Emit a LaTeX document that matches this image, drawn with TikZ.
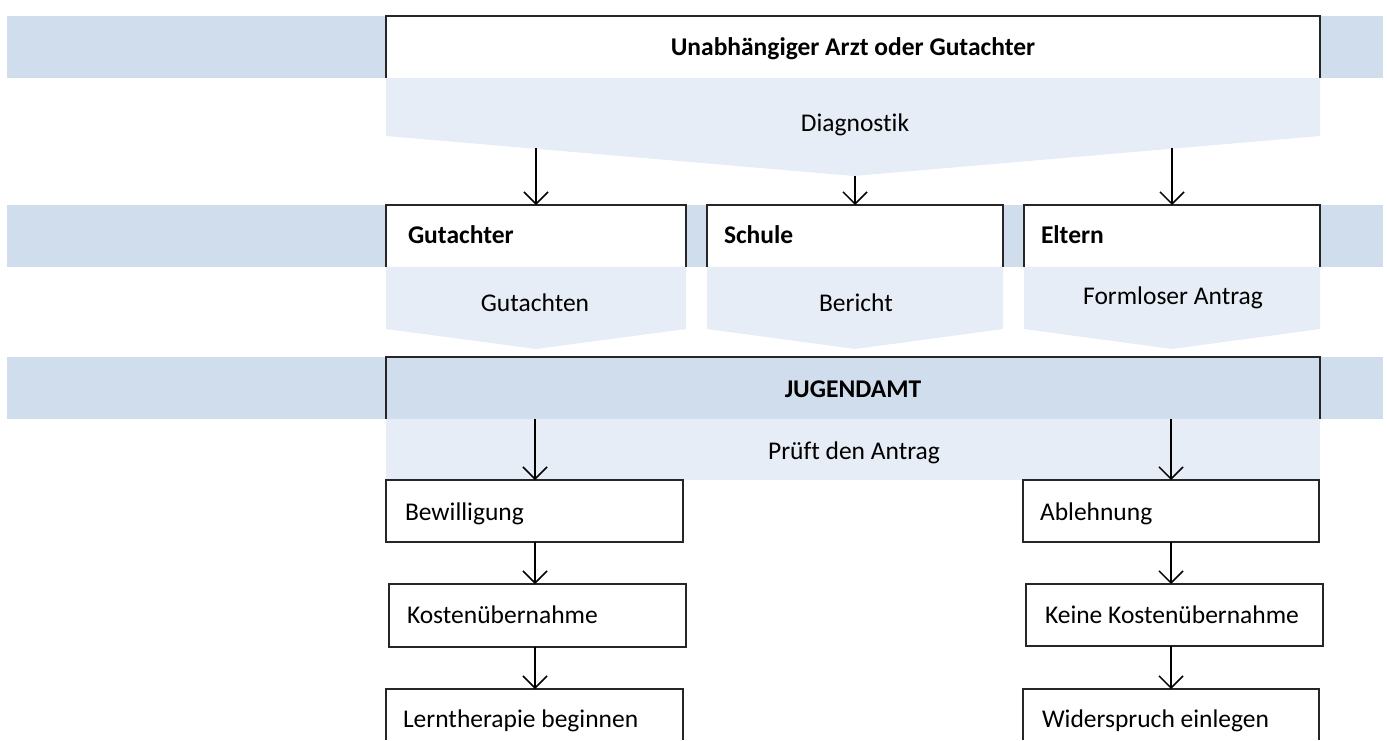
\documentclass[tikz,border=0pt]{standalone}
\usepackage{fontspec}
\setmainfont[Ligatures=NoCommon]{Carlito}
\usetikzlibrary{arrows.meta}
\definecolor{bandc}{RGB}{208,221,236}
\definecolor{chevc}{RGB}{231,237,246}
\begin{document}
\begin{tikzpicture}[x=1pt,y=-1pt,
  every node/.style={font=\fontsize{25.5}{30}\selectfont, inner sep=0pt, outer sep=0pt},
  band/.style={fill=bandc},
  chev/.style={fill=chevc},
  whitebox/.style={fill=white, anchor=north west},
  fullbox/.style={fill=white, draw=black!85, line width=1.6pt, anchor=north west, minimum width=297pt, minimum height=62pt},
  boxline/.style={line width=1.6pt, draw=black!85},
  arr/.style={line width=1.5pt, -{Straight Barb[length=12pt,width=24pt]}},
  lbl/.style={anchor=base west},
  clbl/.style={anchor=base},
  bold/.style={font=\fontsize{25.5}{30}\selectfont\bfseries}
]
\useasboundingbox (0,0) rectangle (1387,740);

% ---------- bands ----------
\fill[band] (7,16) rectangle (1383,78);
\fill[band] (7,205) rectangle (1383,267);
\fill[band] (7,357) rectangle (1383,419);

% ---------- row 1 ----------
\node[whitebox, minimum width=934pt, minimum height=62pt] (arzt) at (386,16) {};
\draw[boxline] (arzt.south west) -- (arzt.north west) -- (arzt.north east) -- (arzt.south east);
\fill[chev] (386,78) -- (1320,78) -- (1320,136) -- (854,176) -- (386,136) -- cycle;
\node[clbl, bold] (tArzt) at (853,55) {Unabhängiger Arzt oder Gutachter};
\node[clbl] (tDiag) at (855,131) {Diagnostik};
\coordinate (d1) at (536,148);
\coordinate (d2) at (855,176);
\coordinate (d3) at (1172,148);

% ---------- row 2 ----------
\node[whitebox, minimum width=300pt, minimum height=62pt] (gut) at (386,205) {};
\node[whitebox, minimum width=296pt, minimum height=62pt] (sch) at (707,205) {};
\node[whitebox, minimum width=296pt, minimum height=62pt] (elt) at (1024,205) {};
\foreach \b in {gut,sch,elt}{
  \draw[boxline] (\b.south west) -- (\b.north west) -- (\b.north east) -- (\b.south east);
}
\fill[chev] (386,267) -- (686,267) -- (686,329) -- (536,349) -- (386,329) -- cycle;
\fill[chev] (707,267) -- (1003,267) -- (1003,329) -- (855,349) -- (707,329) -- cycle;
\fill[chev] (1024,267) -- (1320,267) -- (1320,329) -- (1172,349) -- (1024,329) -- cycle;
\node[lbl, bold] (tGut) at (408,243) {Gutachter};
\node[lbl, bold] (tSch) at (724,243) {Schule};
\node[lbl, bold] (tElt) at (1041,243) {Eltern};
\node[clbl] (tGutn) at (535,311) {Gutachten};
\node[clbl] (tBer) at (856,311) {Bericht};
\node[clbl] (tForm) at (1173,304) {Formloser Antrag};

\draw[arr] (d1) -- (gut.north);
\draw[arr] (d2) -- (sch.north);
\draw[arr] (d3) -- (elt.north);

% ---------- row 3 ----------
\node[whitebox, fill=bandc, minimum width=934pt, minimum height=62pt] (jug) at (386,357) {};
\draw[boxline] (jug.south west) -- (jug.north west) -- (jug.north east) -- (jug.south east);
\node[whitebox, fill=chevc, minimum width=934pt, minimum height=61pt] (pruef) at (386,419) {};
\node[clbl, bold] (tJug) at (853,397) {JUGENDAMT};
\node[clbl] (tPruef) at (854,459) {Prüft den Antrag};

% ---------- outcome boxes ----------
\node[fullbox] (bew) at (386,480) {};
\node[fullbox, minimum height=63pt] (kost) at (389,584) {};
\node[whitebox, minimum width=297pt, minimum height=51pt] (lern) at (386,689) {};
\draw[boxline] (lern.south west) -- (lern.north west) -- (lern.north east) -- (lern.south east);

\node[fullbox, minimum width=296pt] (abl) at (1023,480) {};
\node[fullbox] (kein) at (1026,584) {};
\node[whitebox, minimum width=296pt, minimum height=51pt] (wid) at (1023,689) {};
\draw[boxline] (wid.south west) -- (wid.north west) -- (wid.north east) -- (wid.south east);

\node[lbl] (tBew) at (405,520) {Bewilligung};
\node[lbl] (tKost) at (407,623) {Kostenübernahme};
\node[lbl] (tLern) at (403,727) {Lerntherapie beginnen};
\node[lbl] (tAbl) at (1040,520) {Ablehnung};
\node[lbl] (tKein) at (1045,623) {Keine Kostenübernahme};
\node[lbl] (tWid) at (1042,727) {Widerspruch einlegen};

\coordinate (p1) at (535,419);
\coordinate (p2) at (1171,419);
\draw[arr] (p1) -- (p1 |- bew.north);
\draw[arr] (p2) -- (p2 |- abl.north);
\draw[arr] (p1 |- bew.south) -- (p1 |- kost.north);
\draw[arr] (p1 |- kost.south) -- (p1 |- lern.north);
\draw[arr] (p2 |- abl.south) -- (p2 |- kein.north);
\draw[arr] (p2 |- kein.south) -- (p2 |- wid.north);
\end{tikzpicture}
\end{document}
